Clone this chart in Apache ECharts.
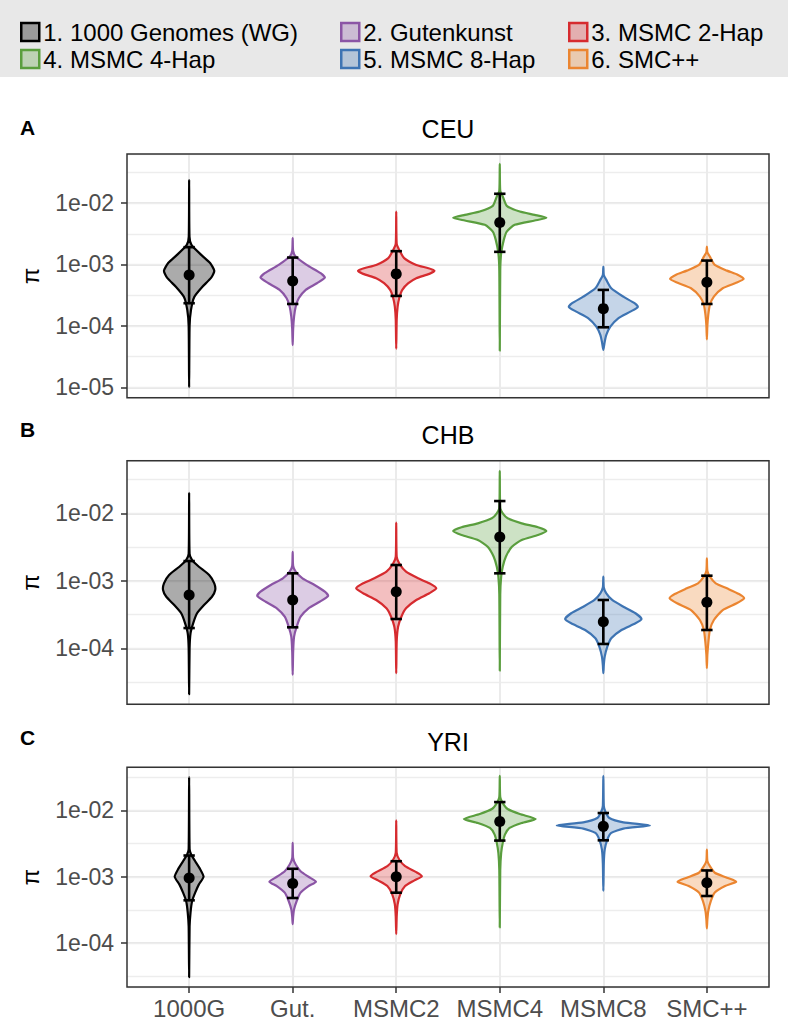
<!DOCTYPE html>
<html><head><meta charset="utf-8">
<script src="https://cdn.jsdelivr.net/npm/echarts@6/dist/echarts.min.js"></script>
<style>html,body{margin:0;padding:0;background:#fff}#c{width:788px;height:1020px}</style>
</head><body><div id="c"></div>
<script>
// ---------- data (all values are log10(pi)) ----------
const methods = ['1000G', 'Gut.', 'MSMC2', 'MSMC4', 'MSMC8', 'SMC++'];
const legendNames = ['1. 1000 Genomes (WG)', '2. Gutenkunst', '3. MSMC 2-Hap', '4. MSMC 4-Hap', '5. MSMC 8-Hap', '6. SMC++'];
const populations = ['CEU', 'CHB', 'YRI'];
const panelLetters = ['A', 'B', 'C'];
const xPositions = [1, 2, 3, 4, 5, 6];

const rangeCEU = [-5.17, -1.2];
const rangeCHB = [-4.83, -1.22];
const rangeYRI = [-4.66, -1.35];
const ticksCEU = [-5, -4, -3, -2];
const ticksCHB = [-4, -3, -2];
const ticksYRI = [-4, -3, -2];
const tickLabelsCEU = ['1e-05', '1e-04', '1e-03', '1e-02'];
const tickLabelsCHB = ['1e-04', '1e-03', '1e-02'];
const tickLabelsYRI = ['1e-04', '1e-03', '1e-02'];

const meanCEU = [-3.17, -3.268, -3.153, -2.316, -3.719, -3.289];
const lowCEU  = [-3.631, -3.643, -3.512, -2.794, -4.023, -3.643];
const highCEU = [-2.718, -2.887, -2.783, -1.848, -3.414, -2.936];
const meanCHB = [-3.21, -3.284, -3.161, -2.351, -3.606, -3.319];
const lowCHB  = [-3.70, -3.689, -3.566, -2.889, -3.936, -3.729];
const highCHB = [-2.707, -2.889, -2.766, -1.818, -3.284, -2.924];
const meanYRI = [-3.019, -3.099, -2.999, -2.165, -2.24, -3.089];
const lowYRI  = [-3.354, -3.319, -3.239, -2.454, -2.45, -3.289];
const highYRI = [-2.679, -2.879, -2.765, -1.874, -2.039, -2.904];

// violin outlines: [log10(pi), relative half width] from top tip to bottom tip
const violinCEU = [
  [[-1.62,0],[-2.55,.008],[-2.68,.05],[-2.843,.26],[-2.976,.45],[-3.104,.54],[-3.219,.47],[-3.366,.28],[-3.529,.11],[-3.74,.04],[-4.0,.01],[-5.0,0]],
  [[-2.571,0],[-2.78,.01],[-2.871,.064],[-3.007,.30],[-3.142,.60],[-3.214,.69],[-3.305,.52],[-3.414,.28],[-3.55,.13],[-3.687,.064],[-3.85,.03],[-4.05,.01],[-4.312,0]],
  [[-2.137,0],[-2.66,.01],[-2.762,.064],[-2.897,.17],[-3.007,.43],[-3.06,.69],[-3.1,.82],[-3.153,.71],[-3.223,.43],[-3.305,.26],[-3.414,.13],[-3.55,.064],[-3.687,.03],[-3.9,.01],[-4.374,0]],
  [[-1.359,0],[-1.8,.01],[-1.892,.064],[-2.044,.15],[-2.137,.43],[-2.191,.75],[-2.24,1.0],[-2.284,.75],[-2.354,.32],[-2.463,.15],[-2.599,.086],[-2.816,.03],[-3.1,.01],[-4.405,0]],
  [[-3.034,0],[-3.17,.01],[-3.251,.064],[-3.387,.17],[-3.524,.43],[-3.631,.67],[-3.692,.74],[-3.768,.58],[-3.876,.32],[-4.013,.15],[-4.148,.064],[-4.258,.03],[-4.393,0]],
  [[-2.708,0],[-2.8,.01],[-2.871,.064],[-3.007,.17],[-3.1,.43],[-3.17,.67],[-3.235,.79],[-3.295,.64],[-3.387,.34],[-3.524,.15],[-3.659,.064],[-3.822,.03],[-4.0,.01],[-4.219,0]]
];
const violinCHB = [
  [[-1.695,0],[-2.6,.01],[-2.692,.064],[-2.791,.21],[-2.914,.43],[-3.037,.54],[-3.136,.56],[-3.236,.49],[-3.359,.32],[-3.481,.17],[-3.63,.086],[-3.778,.03],[-4.0,.01],[-4.681,0]],
  [[-2.569,0],[-2.78,.01],[-2.865,.064],[-2.963,.21],[-3.062,.47],[-3.161,.69],[-3.225,.76],[-3.31,.58],[-3.407,.34],[-3.532,.17],[-3.68,.086],[-3.828,.03],[-4.05,.01],[-4.396,0]],
  [[-2.139,0],[-2.64,.01],[-2.741,.064],[-2.865,.21],[-2.963,.47],[-3.037,.71],[-3.111,.86],[-3.185,.71],[-3.284,.43],[-3.407,.21],[-3.532,.11],[-3.68,.04],[-3.9,.01],[-4.37,0]],
  [[-1.369,0],[-1.92,.01],[-2.0,.064],[-2.074,.17],[-2.148,.47],[-2.207,.82],[-2.262,1.0],[-2.321,.82],[-2.395,.47],[-2.495,.26],[-2.643,.13],[-2.791,.064],[-2.939,.03],[-3.2,.01],[-4.332,0]],
  [[-2.939,0],[-3.1,.01],[-3.185,.064],[-3.284,.19],[-3.384,.43],[-3.481,.69],[-3.566,.82],[-3.63,.69],[-3.729,.39],[-3.852,.17],[-3.976,.086],[-4.124,.03],[-4.25,.01],[-4.37,0]],
  [[-2.667,0],[-2.85,.01],[-2.939,.064],[-3.037,.19],[-3.111,.43],[-3.196,.69],[-3.259,.80],[-3.333,.64],[-3.433,.34],[-3.581,.15],[-3.729,.064],[-3.926,.03],[-4.1,.01],[-4.296,0]]
];
const violinYRI = [
  [[-1.499,0],[-2.58,.01],[-2.664,.043],[-2.765,.13],[-2.889,.24],[-2.999,.31],[-3.114,.21],[-3.238,.13],[-3.364,.064],[-3.538,.03],[-3.75,.01],[-4.513,0]],
  [[-2.489,0],[-2.72,.01],[-2.814,.064],[-2.915,.17],[-2.999,.34],[-3.073,.50],[-3.139,.34],[-3.238,.17],[-3.364,.086],[-3.489,.03],[-3.6,.01],[-3.714,0]],
  [[-2.15,0],[-2.64,.01],[-2.739,.064],[-2.84,.19],[-2.93,.43],[-2.99,.55],[-3.054,.39],[-3.139,.19],[-3.264,.086],[-3.414,.03],[-3.6,.01],[-3.864,0]],
  [[-1.48,0],[-1.8,.01],[-1.889,.064],[-1.979,.17],[-2.054,.43],[-2.129,.77],[-2.189,.47],[-2.264,.21],[-2.364,.11],[-2.489,.064],[-2.639,.03],[-2.9,.01],[-3.763,0]],
  [[-1.48,0],[-1.93,.01],[-2.015,.043],[-2.114,.13],[-2.18,.43],[-2.225,1.0],[-2.274,.43],[-2.339,.17],[-2.439,.086],[-2.589,.03],[-2.8,.01],[-3.214,0]],
  [[-2.589,0],[-2.76,.01],[-2.84,.064],[-2.939,.17],[-3.013,.43],[-3.073,.63],[-3.139,.39],[-3.238,.17],[-3.364,.086],[-3.514,.03],[-3.65,.01],[-3.778,0]]
];

// ---------- styling ----------
const lineColors = ['#000000', '#8B55A5', '#D62B2F', '#5A9E3E', '#3E74B3', '#EB8530'];
const fillColors = ['rgba(0,0,0,0.33)', 'rgba(139,85,165,0.3)', 'rgba(214,43,47,0.3)', 'rgba(90,158,62,0.3)', 'rgba(62,116,179,0.3)', 'rgba(235,133,48,0.3)'];
const FONT = 'Liberation Sans, Arial, Helvetica, sans-serif';
const HALF_MAX = 0.45;   // max violin half width in category units
const CAP_HALF = 0.055;  // error bar cap half width

const panels = [
  {range: rangeCEU, ticks: ticksCEU, labels: tickLabelsCEU, mean: meanCEU, low: lowCEU, high: highCEU, violins: violinCEU},
  {range: rangeCHB, ticks: ticksCHB, labels: tickLabelsCHB, mean: meanCHB, low: lowCHB, high: highCHB, violins: violinCHB},
  {range: rangeYRI, ticks: ticksYRI, labels: tickLabelsYRI, mean: meanYRI, low: lowYRI, high: highYRI, violins: violinYRI}
];
const gridBoxes = [
  {left: 127, top: 154, width: 642, height: 243.7},
  {left: 127, top: 460.7, width: 642, height: 243.6},
  {left: 127, top: 767.3, width: 642, height: 221}
];
const titleY = [129, 435, 742];
const letterY = [127, 429, 737];

const grid = [], xAxis = [], yAxis = [], series = [];
panels.forEach((P, p) => {
  grid.push(Object.assign({show: true, borderColor: '#333', borderWidth: 1.5, backgroundColor: 'transparent', z: 1}, gridBoxes[p]));
  const isBottom = p === 2;
  xAxis.push({
    gridIndex: p, type: 'value', min: 0.4, max: 6.6, minInterval: 1, maxInterval: 1,
    axisLine: {show: false},
    axisTick: {show: isBottom, customValues: xPositions, length: 6, lineStyle: {color: '#333', width: 1.5}},
    axisLabel: {show: isBottom, customValues: xPositions, margin: 9, fontSize: 24, color: '#4d4d4d', fontFamily: FONT,
      formatter: v => methods[xPositions.indexOf(Math.round(v))] || ''},
    splitLine: {show: true, lineStyle: {color: '#ebebeb', width: 2}}
  });
  yAxis.push({
    gridIndex: p, type: 'value', min: P.range[0], max: P.range[1], minInterval: 0.5, maxInterval: 0.5,
    axisLine: {show: false},
    axisTick: {show: true, customValues: P.ticks, length: 6, lineStyle: {color: '#333', width: 1.5}},
    axisLabel: {customValues: P.ticks, margin: 13, fontSize: 23, color: '#4d4d4d', fontFamily: FONT,
      formatter: v => { const i = P.ticks.indexOf(Math.round(v * 1000) / 1000); return i >= 0 ? P.labels[i] : ''; }},
    splitLine: {show: true, lineStyle: {color: '#e6e6e6', width: 2}},
    name: 'π', nameLocation: 'middle', nameGap: 85, nameRotate: 90,
    nameTextStyle: {fontSize: 24, color: '#000', fontFamily: FONT}
  });
  yAxis.push({
    gridIndex: p, type: 'value', min: P.range[0], max: P.range[1], minInterval: 0.5, maxInterval: 0.5,
    axisLine: {show: false}, axisTick: {show: false}, axisLabel: {show: false},
    splitLine: {show: true, lineStyle: {color: '#ededed', width: 1.3}}
  });

  // violins
  P.violins.forEach((prof, m) => {
    series.push({
      type: 'custom', name: legendNames[m], xAxisIndex: p, yAxisIndex: 2 * p, z: 2, silent: true,
      itemStyle: {color: fillColors[m], borderColor: lineColors[m], borderWidth: 2},
      data: [[xPositions[m], prof[0][0], prof[prof.length - 1][0]]],
      encode: {x: 0, y: [1, 2]},
      renderItem: (params, api) => {
        const x = api.value(0);
        const leftSide = prof.map(([v, w]) => api.coord([x - w * HALF_MAX, v]));
        const rightSide = prof.slice(1, -1).reverse().map(([v, w]) => api.coord([x + w * HALF_MAX, v]));
        return {
          type: 'polygon',
          shape: {points: leftSide.concat(rightSide), smooth: 0.2},
          style: {fill: fillColors[m], stroke: lineColors[m], lineWidth: 2.2, lineJoin: 'round'}
        };
      }
    });
  });
  // error bars
  series.push({
    type: 'custom', name: 'errorbar-' + p, xAxisIndex: p, yAxisIndex: 2 * p, z: 3, silent: true,
    data: xPositions.map((x, i) => [x, P.low[i], P.high[i]]),
    encode: {x: 0, y: [1, 2]},
    renderItem: (params, api) => {
      const x = api.value(0), lo = api.value(1), hi = api.value(2);
      const pLo = api.coord([x, lo]), pHi = api.coord([x, hi]);
      const lL = api.coord([x - CAP_HALF, lo]), lR = api.coord([x + CAP_HALF, lo]);
      const hL = api.coord([x - CAP_HALF, hi]), hR = api.coord([x + CAP_HALF, hi]);
      const st = {stroke: '#000', lineWidth: 2.6};
      return {type: 'group', children: [
        {type: 'line', shape: {x1: pLo[0], y1: pLo[1], x2: pHi[0], y2: pHi[1]}, style: st},
        {type: 'line', shape: {x1: lL[0], y1: lL[1], x2: lR[0], y2: lR[1]}, style: st},
        {type: 'line', shape: {x1: hL[0], y1: hL[1], x2: hR[0], y2: hR[1]}, style: st}
      ]};
    }
  });
  // means
  series.push({
    type: 'scatter', name: 'mean-' + p, xAxisIndex: p, yAxisIndex: 2 * p, z: 4, silent: true,
    symbol: 'circle', symbolSize: 11, itemStyle: {color: '#000', opacity: 1},
    data: xPositions.map((x, i) => [x, P.mean[i]])
  });
});

const legendCols = [15, 335, 563];
const legend = legendCols.map((left, c) => ({
  left: left, top: 15, orient: 'vertical', itemWidth: 18, itemHeight: 18, itemGap: 3,
  icon: 'rect', selectedMode: false,
  textStyle: {fontSize: 24, color: '#000', fontFamily: FONT, padding: [0, 0, 0, -1]},
  data: [c, c + 3].map(m => ({name: legendNames[m], itemStyle: {color: fillColors[m], borderColor: lineColors[m], borderWidth: 2.5}}))
}));

const graphic = [{type: 'rect', left: 0, top: 0, z: -10, shape: {width: 788, height: 77}, style: {fill: '#e8e8e8'}}];
populations.forEach((name, p) => {
  graphic.push({type: 'text', x: gridBoxes[p].left + gridBoxes[p].width / 2, y: titleY[p],
    style: {text: name, fontSize: 25, fill: '#000', fontFamily: FONT, textAlign: 'center', textVerticalAlign: 'middle'}});
  graphic.push({type: 'text', x: 20, y: letterY[p],
    style: {text: panelLetters[p], fontSize: 21, fontWeight: 'bold', fill: '#000', fontFamily: FONT, textAlign: 'left', textVerticalAlign: 'middle'}});
});

const chart = echarts.init(document.getElementById('c'), null, {renderer: 'svg'});
chart.setOption({
  animation: false,
  backgroundColor: '#fff',
  textStyle: {fontFamily: FONT},
  grid, xAxis, yAxis, series, legend, graphic
});
</script>
</body></html>
